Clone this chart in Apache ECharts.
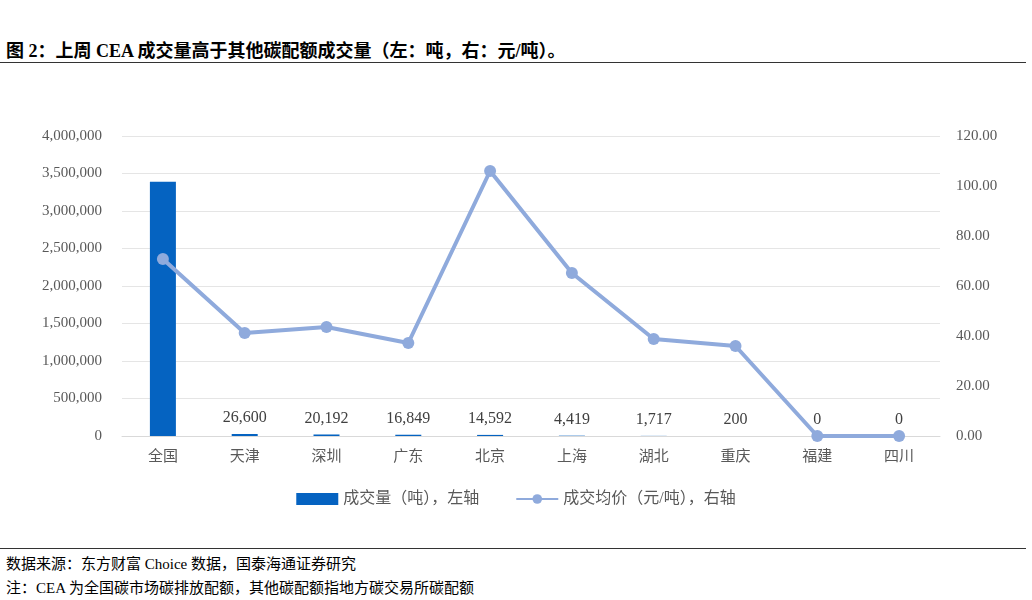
<!DOCTYPE html>
<html><head><meta charset="utf-8">
<script src="https://cdn.jsdelivr.net/npm/echarts@6/dist/echarts.min.js"></script>
<style>
body{margin:0;background:#fff;font-family:"Liberation Serif","Noto Sans CJK SC",serif;}
#title{position:absolute;left:6px;top:36px;font-size:18px;font-weight:bold;color:#000;}
#rule1{position:absolute;left:0;top:62px;width:1026px;border-top:1.5px solid #333;}
#rule2{position:absolute;left:0;top:548px;width:1026px;border-top:1px solid #333;}
#src{position:absolute;left:6px;top:552px;font-size:15px;line-height:24px;color:#000;}
#main{position:absolute;left:0;top:70px;width:1032px;height:470px;}
</style></head>
<body>
<div id="title">图 2：上周 CEA 成交量高于其他碳配额成交量（左：吨，右：元/吨）。</div>
<div id="rule1"></div>
<div id="main"></div>
<div id="rule2"></div>
<div id="src">数据来源：东方财富 Choice 数据，国泰海通证券研究<br>注：CEA 为全国碳市场碳排放配额，其他碳配额指地方碳交易所碳配额</div>
<script>
var categories = ['全国','天津','深圳','广东','北京','上海','湖北','重庆','福建','四川'];
var volume = [3390000, 26600, 20192, 16849, 14592, 4419, 1717, 200, 0, 0];
var price = [70.8, 41.2, 43.6, 37.2, 106, 65.2, 38.8, 36, 0, 0];

var myChart = echarts.init(document.getElementById('main'));
var font = '"Liberation Serif","Noto Sans CJK SC",serif';
var option = {
    textStyle: {fontFamily: font},
    grid: {left: 122, right: 92, top: 66, bottom: 104},
    legend: {
        bottom: 28, itemGap: 36,
        textStyle: {fontSize: 16, color: '#595959', fontFamily: font},
        data: [
            {name: '成交量（吨），左轴', icon: 'rect', itemStyle: {color: '#0563C1'}},
            {name: '成交均价（元/吨），右轴'}
        ],
        itemWidth: 42, itemHeight: 12
    },
    xAxis: {
        type: 'category', data: categories,
        axisLine: {lineStyle: {color: '#d9d9d9'}},
        axisTick: {show: false},
        axisLabel: {color: '#595959', fontSize: 15, margin: 14}
    },
    yAxis: [
        {type: 'value', min: 0, max: 4000000, interval: 500000,
         axisLabel: {color: '#595959', fontSize: 15, margin: 20,
             formatter: function(v){return v.toLocaleString('en-US');}},
         splitLine: {lineStyle: {color: '#e5e5e5'}}},
        {type: 'value', min: 0, max: 120, interval: 20,
         axisLabel: {color: '#595959', fontSize: 15, margin: 16,
             formatter: function(v){return v.toFixed(2);}},
         splitLine: {show: false}}
    ],
    series: [
        {name: '成交量（吨），左轴', type: 'bar', data: volume, barWidth: 26,
         itemStyle: {color: '#0563C1'},
         label: {show: true, position: 'top', fontSize: 16, color: '#404040', distance: 8,
             formatter: function(p){return p.dataIndex === 0 ? '' : p.value.toLocaleString('en-US');}}},
        {name: '成交均价（元/吨），右轴', type: 'line', yAxisIndex: 1, data: price,
         symbol: 'circle', symbolSize: 12,
         lineStyle: {color: '#8FAADC', width: 4},
         itemStyle: {color: '#8FAADC'}}
    ]
};
myChart.setOption(option);
</script>
</body></html>
